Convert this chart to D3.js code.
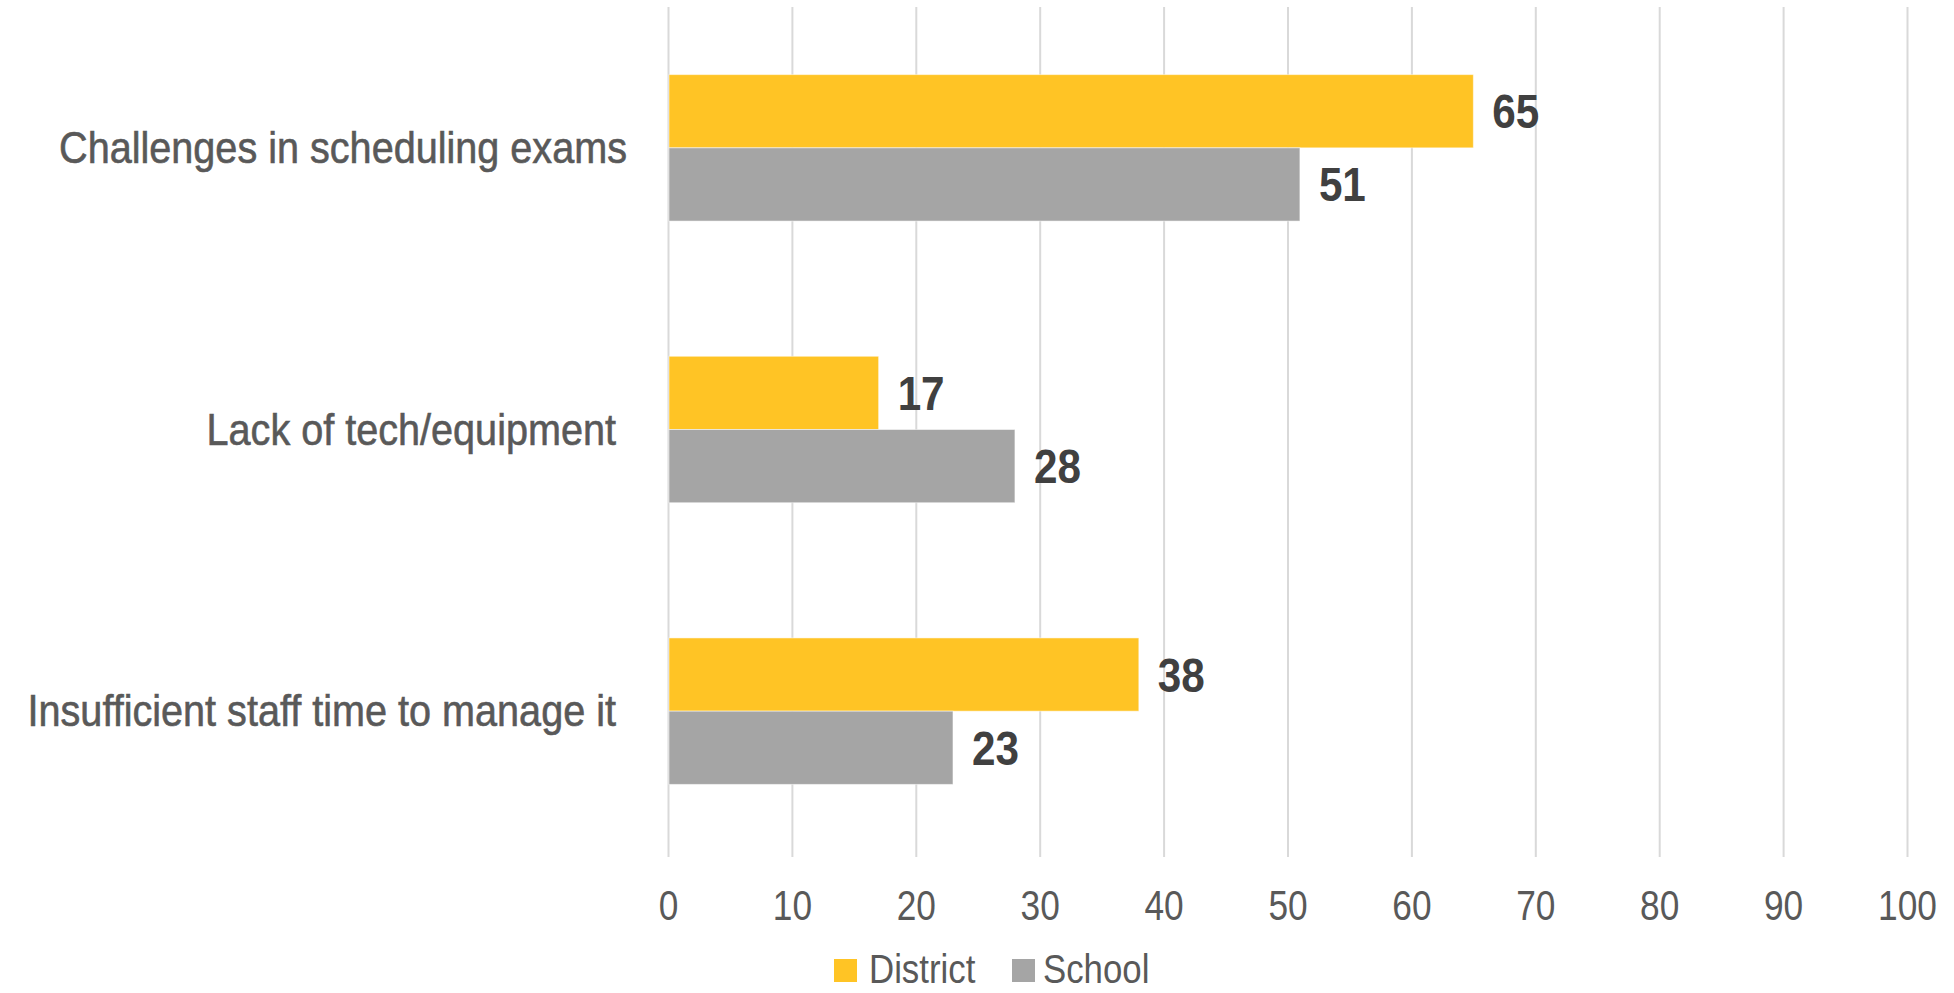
<!DOCTYPE html>
<html>
<head>
<meta charset="utf-8">
<script src="https://cdn.jsdelivr.net/npm/d3@7"></script>
<style>
  html, body { margin: 0; padding: 0; background: #ffffff; }
  svg { display: block; }
  text { font-family: "Liberation Sans", Arial, sans-serif; white-space: pre; }
</style>
</head>
<body>
<svg id="chart" width="1954" height="993"></svg>
<script>
// Reasons given, one group of bars each
const categories = [
  "Challenges in scheduling exams",
  "Lack of tech/equipment ",
  "Insufficient staff time to manage it "
];
const seriesNames = ["District", "School"];
const districtValues = [65, 17, 38];
const schoolValues = [51, 28, 23];
const tickValues = [0, 10, 20, 30, 40, 50, 60, 70, 80, 90, 100];
const seriesColors = ["#FFC425", "#A5A5A5"];

const rows = categories.map((c, i) => ({
  category: c,
  values: [districtValues[i], schoolValues[i]]
}));

// Squeeze text horizontally to get a condensed face
function condense(sel, factor) {
  sel.each(function () {
    const len = this.getComputedTextLength();
    this.setAttribute("textLength", len * factor);
    this.setAttribute("lengthAdjust", "spacingAndGlyphs");
  });
}

const svg = d3.select("#chart");
const plot = { left: 668, right: 1907, top: 7, bottom: 852 };

const x = d3.scaleLinear().domain([0, 100]).range([plot.left, plot.right]);
const y = d3.scaleBand()
  .domain(categories)
  .range([plot.top, plot.bottom])
  .paddingInner(0.48)
  .paddingOuter(0.24);
const ySeries = d3.scaleBand()
  .domain(seriesNames)
  .range([0, y.bandwidth()]);

// Vertical gridlines with tick labels underneath
const xAxis = d3.axisBottom(x)
  .tickValues(tickValues)
  .tickSize(plot.bottom - plot.top + 5)
  .tickPadding(0)
  .tickFormat(d3.format("d"));

const axisG = svg.append("g")
  .attr("transform", `translate(0,${plot.top})`)
  .call(xAxis);
axisG.select(".domain").remove();
axisG.selectAll(".tick line")
  .attr("stroke", "#D9D9D9")
  .attr("stroke-width", 2);
axisG.selectAll(".tick text")
  .attr("y", 920 - plot.top)
  .attr("dy", null)
  .attr("fill", "#595959")
  .style("font-size", "42px")
  .style("font-family", "\"Liberation Sans\", Arial, sans-serif")
  .call(condense, 0.84);

// Bars
const groups = svg.append("g").selectAll("g")
  .data(rows)
  .join("g")
  .attr("transform", d => `translate(0,${y(d.category)})`);

groups.selectAll("rect")
  .data(d => d.values.map((v, k) => ({ series: seriesNames[k], value: v, k })))
  .join("rect")
  .attr("x", x(0) + 1)
  .attr("y", d => ySeries(d.series))
  .attr("width", d => x(d.value) - x(0) - 1)
  .attr("height", ySeries.bandwidth())
  .attr("fill", d => seriesColors[d.k])
  .attr("stroke", "#ffffff")
  .attr("stroke-opacity", 0.5)
  .attr("stroke-width", 1);

// Value labels at the end of each bar
groups.selectAll("text.value")
  .data(d => d.values.map((v, k) => ({ series: seriesNames[k], value: v })))
  .join("text")
  .attr("class", "value")
  .attr("x", d => x(d.value) + 19)
  .attr("y", d => ySeries(d.series) + ySeries.bandwidth() / 2 + 17)
  .attr("fill", "#404040")
  .style("font-size", "48px")
  .style("font-weight", "bold")
  .text(d => d.value)
  .call(condense, 0.88);

// Category labels, right-aligned against the plot
svg.append("g").selectAll("text")
  .data(categories)
  .join("text")
  .attr("x", 627)
  .attr("y", d => y(d) + y.bandwidth() / 2 + 15)
  .attr("text-anchor", "end")
  .attr("fill", "#595959")
  .attr("stroke", "#595959")
  .attr("stroke-width", 0.6)
  .style("font-size", "44px")
  .text(d => d)
  .call(condense, 0.9);

// Legend
const legendItems = [
  { name: seriesNames[0], color: seriesColors[0], sx: 834, tx: 869 },
  { name: seriesNames[1], color: seriesColors[1], sx: 1012, tx: 1043 }
];
const legend = svg.append("g");
legend.selectAll("rect")
  .data(legendItems)
  .join("rect")
  .attr("x", d => d.sx)
  .attr("y", 959)
  .attr("width", 23)
  .attr("height", 23)
  .attr("fill", d => d.color);
legend.selectAll("text")
  .data(legendItems)
  .join("text")
  .attr("x", d => d.tx)
  .attr("y", 983)
  .attr("fill", "#595959")
  .style("font-size", "40px")
  .text(d => d.name)
  .call(condense, 0.87);
</script>
</body>
</html>
